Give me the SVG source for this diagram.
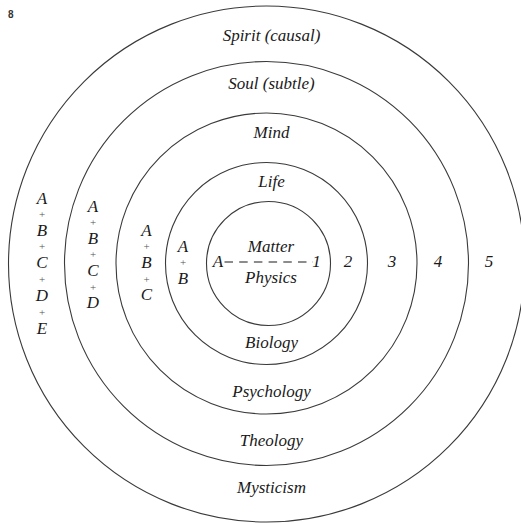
<svg xmlns="http://www.w3.org/2000/svg" width="521" height="523" viewBox="0 0 521 523">
  <style>
    .ring { fill: none; stroke: #3a3a3a; stroke-width: 1.1; }
    .lbl { font-family: "Liberation Serif", "DejaVu Serif", serif; font-style: italic; font-size: 17px; fill: #1a1a1a; text-anchor: middle; }
    .plus { font-family: "Liberation Serif", "DejaVu Serif", serif; font-size: 11px; fill: #555; text-anchor: middle; }
    .dash { stroke: #1a1a1a; stroke-width: 1.2; stroke-dasharray: 8.5 6.2; fill: none; }
    .fig { font-family: "Liberation Sans", Arial, sans-serif; font-size: 10px; font-weight: bold; fill: #333; }
  </style>
  <rect width="521" height="523" fill="#ffffff"/>

  <text class="fig" x="8" y="18">8</text>

  <!-- concentric levels, outermost first -->
  <g id="spirit">
    <circle class="ring" cx="266.5" cy="264" r="258"/>
    <text class="lbl" x="271.5" y="41">Spirit (causal)</text>
    <text class="lbl" x="271.5" y="493">Mysticism</text>
    <text class="lbl" x="489" y="267">5</text>
    <g class="stack">
      <text class="lbl" x="42" y="204">A</text>
      <text class="plus" x="42" y="218">+</text>
      <text class="lbl" x="42" y="236">B</text>
      <text class="plus" x="42" y="250">+</text>
      <text class="lbl" x="42" y="268">C</text>
      <text class="plus" x="42" y="283">+</text>
      <text class="lbl" x="42" y="301">D</text>
      <text class="plus" x="42" y="316">+</text>
      <text class="lbl" x="42" y="334">E</text>
    </g>
  </g>

  <g id="soul">
    <circle class="ring" cx="266.5" cy="263.5" r="202"/>
    <text class="lbl" x="271.5" y="89">Soul (subtle)</text>
    <text class="lbl" x="271.5" y="446">Theology</text>
    <text class="lbl" x="438" y="267">4</text>
    <g class="stack">
      <text class="lbl" x="93" y="212">A</text>
      <text class="plus" x="93" y="226">+</text>
      <text class="lbl" x="93" y="244">B</text>
      <text class="plus" x="93" y="258">+</text>
      <text class="lbl" x="93" y="276">C</text>
      <text class="plus" x="93" y="291">+</text>
      <text class="lbl" x="93" y="308">D</text>
    </g>
  </g>

  <g id="mind">
    <circle class="ring" cx="266.5" cy="263.5" r="150.5"/>
    <text class="lbl" x="271.5" y="138">Mind</text>
    <text class="lbl" x="271.5" y="397">Psychology</text>
    <text class="lbl" x="392" y="267">3</text>
    <g class="stack">
      <text class="lbl" x="146.5" y="236">A</text>
      <text class="plus" x="146.5" y="250">+</text>
      <text class="lbl" x="146.5" y="268">B</text>
      <text class="plus" x="146.5" y="283">+</text>
      <text class="lbl" x="146.5" y="300">C</text>
    </g>
  </g>

  <g id="life">
    <circle class="ring" cx="266.5" cy="263.5" r="101"/>
    <text class="lbl" x="271.5" y="187">Life</text>
    <text class="lbl" x="271.5" y="348">Biology</text>
    <text class="lbl" x="348" y="267">2</text>
    <g class="stack">
      <text class="lbl" x="183" y="252">A</text>
      <text class="plus" x="183" y="266">+</text>
      <text class="lbl" x="183" y="284">B</text>
    </g>
  </g>

  <g id="matter">
    <circle class="ring" cx="268.5" cy="263.5" r="62"/>
    <text class="lbl" x="271" y="252">Matter</text>
    <text class="lbl" x="271" y="283">Physics</text>
    <text class="lbl" x="218" y="267">A</text>
    <text class="lbl" x="316.5" y="267">1</text>
  </g>

  <!-- dashed axis from A to 1 -->
  <g id="connectors">
    <line class="dash" x1="224.5" y1="262" x2="313" y2="262"/>
  </g>
</svg>
